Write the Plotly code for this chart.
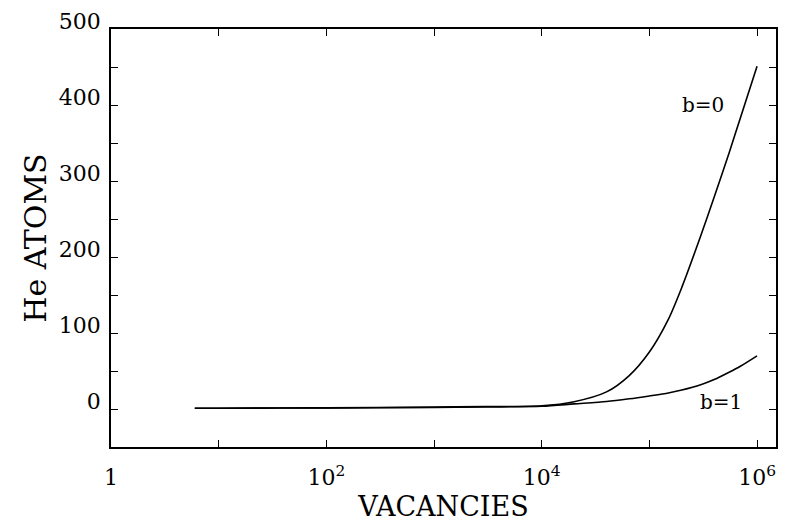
import math
import plotly.graph_objects as go

# Data
vacancies = [6, 10, 100, 1000, 3000, 10000, 20000, 40000, 65000, 100000,
             150000, 200000, 300000, 400000, 550000, 700000, 1000000]
he_b0 = [1, 1, 1.5, 2.5, 3.2, 4.2, 9.6, 22.5, 44, 75, 118, 160, 228, 279, 337, 383, 451]
he_b1 = [1, 1, 1.5, 2, 2.7, 3.6, 6.7, 9.8, 13.4, 17.2, 21.1, 25, 32, 38.8, 48.4, 56.3, 70]

series_names = ["b=0", "b=1"]
label_x = [10 ** 5.5, 10 ** 5.667]
label_y = [400, 9]

x_tickvals = [1, 100, 10000, 1000000]
x_ticktext = ["1", "10<sup>2</sup>", "10<sup>4</sup>", "10<sup>6</sup>"]
x_minorvals = [10, 1000, 100000]
y_tickvals = [0, 100, 200, 300, 400, 500]
y_ticktext = ["0", "100", "200", "300", "400", "500"]
y_minorvals = [50, 150, 250, 350, 450]

FONT = "DejaVu Serif"

fig = go.Figure()
for name, ys in zip(series_names, [he_b0, he_b1]):
    fig.add_trace(go.Scatter(x=vacancies, y=ys, mode="lines", name=name,
                             line=dict(color="black", width=1.6, shape="spline", smoothing=0.8),
                             showlegend=False))

for name, lx, ly in zip(series_names, label_x, label_y):
    fig.add_annotation(x=math.log10(lx), y=ly, text=name, showarrow=False,
                       font=dict(family=FONT, size=20, color="black"))

axis_common = dict(showline=True, linecolor="black", linewidth=1.5, mirror="ticks",
                   ticks="inside", ticklen=7, tickwidth=1.3, tickcolor="black",
                   showgrid=False, zeroline=False,
                   tickfont=dict(family=FONT, size=22, color="black"))
minor_common = dict(ticks="inside", ticklen=7, tickwidth=1.3, tickcolor="black", showgrid=False)

fig.update_layout(
    width=787, height=527,
    margin=dict(l=111, r=9, t=28, b=80),
    paper_bgcolor="white", plot_bgcolor="white",
    xaxis=dict(type="log", range=[0, 6.176], tickvals=x_tickvals, ticktext=x_ticktext,
               minor=dict(tickvals=x_minorvals, **minor_common),
               ticklabelstandoff=10,
               title=dict(text="VACANCIES", font=dict(family=FONT, size=27, color="black"), standoff=8),
               **axis_common),
    yaxis=dict(range=[-50, 500], tickvals=y_tickvals, ticktext=y_ticktext,
               minor=dict(tickvals=y_minorvals, **minor_common),
               ticklabelstandoff=4, ticklabelshift=-8,
               title=dict(text="He ATOMS", font=dict(family=FONT, size=30, color="black"), standoff=3),
               **axis_common),
)

fig.write_html("out.html")
